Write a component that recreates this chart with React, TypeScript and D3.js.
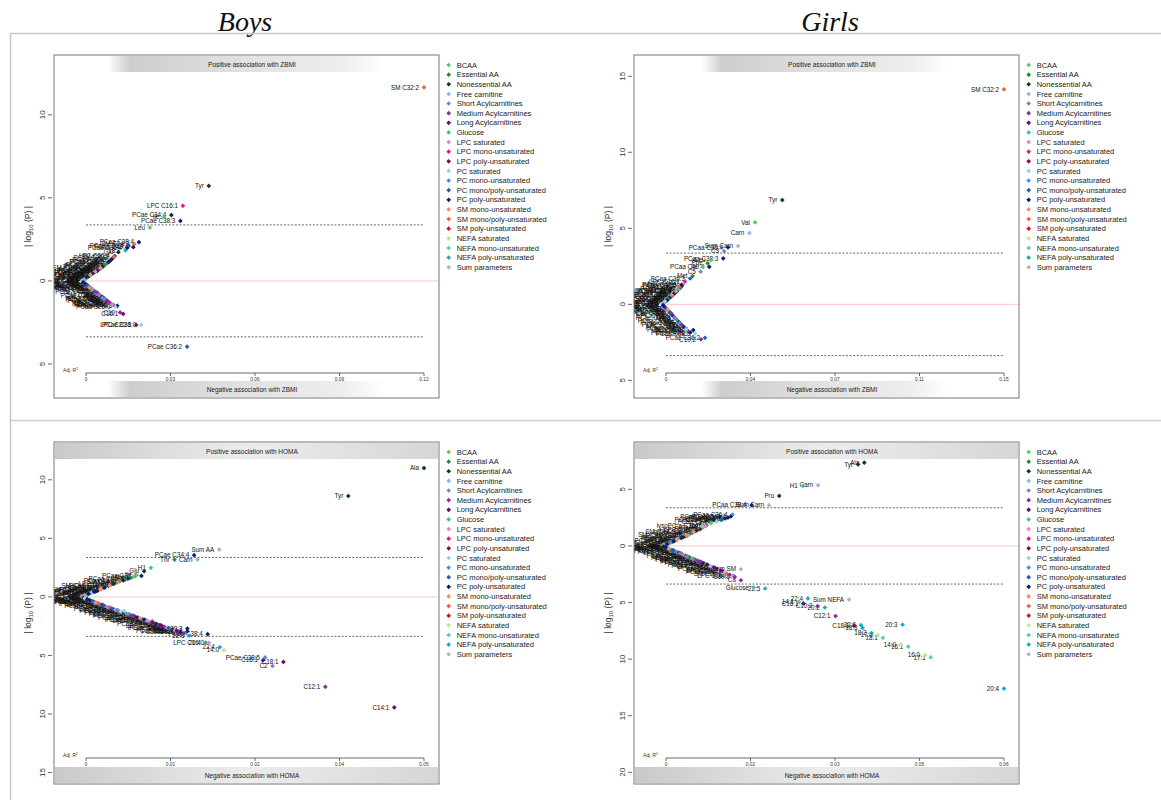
import React from 'react';
import * as d3 from 'd3';

// metabolite classes (legend order) and their colours
const groupNames = [
  'BCAA', 'Essential AA', 'Nonessential AA', 'Free carnitine', 'Short Acylcarnitines',
  'Medium Acylcarnitines', 'Long Acylcarnitines', 'Glucose', 'LPC saturated',
  'LPC mono-unsaturated', 'LPC poly-unsaturated', 'PC saturated', 'PC mono-unsaturated',
  'PC mono/poly-unsaturated', 'PC poly-unsaturated', 'SM mono-unsaturated',
  'SM mono/poly-unsaturated', 'SM poly-unsaturated', 'NEFA saturated',
  'NEFA mono-unsaturated', 'NEFA poly-unsaturated', 'Sum parameters',
];
const groupColors = [
  '#5cc85c', '#1e8c3c', '#0c3a1c', '#8fb6e6', '#7c82c8', '#8c2a9e', '#6a0a70', '#3ec49a',
  '#d88ad2', '#e41a7c', '#8a0c3c', '#9ccde9', '#4a92dc', '#1e5eb8', '#0e1e68', '#f58c6c',
  '#f2643c', '#d6151c', '#bce890', '#5ccea2', '#1aaac2', '#b4b4b4',
];

// [label, class, adj. R², signed |log10 P| (negative = negative association)]
type Pt = [string, number, number, number];

const boysZbmi: Pt[] = [
  ['SM C32:2', 16, 0.12, 11.65], ['Tyr', 2, 0.0436, 5.72], ['LPC C16:1', 9, 0.0344, 4.52],
  ['PCae C34:4', 14, 0.0303, 3.96], ['Ile', 0, 0.0278, 3.84], ['PCae C38:3', 14, 0.0335, 3.61],
  ['Leu', 0, 0.0227, 3.21], ['PCaa C38:4', 14, 0.0188, 2.33], ['SM C24:2', 16, 0.0171, 2.22],
  ['PCaa C40:4', 14, 0.0168, 2.03], ['PCae C36:4', 13, 0.0152, 2.12], ['PCaa C36:4', 14, 0.0146, 1.98],
  ['18:2', 20, 0.014, 1.83], ['Glu', 2, 0.0115, 1.73], ['LPC C20:4', 10, 0.0102, 1.5],
  ['PCaa C36:3', 13, 0.0095, 1.38], ['20:2', 20, 0.0088, 1.26], ['PCaa C38:5', 14, 0.0083, 1.18],
  ['SM C16:1', 15, 0.0078, 1.1], ['Phe', 1, 0.0072, 1.02], ['PCaa C32:0', 11, 0.0068, 0.95],
  ['PCaa C34:1', 12, 0.0062, 0.88], ['SM C18:1', 15, 0.0054, 0.8], ['16:1', 19, 0.0048, 0.72],
  ['PCae C40:6', 14, 0.0042, 0.65], ['PCae C34:1', 12, 0.0035, 0.58], ['LPC C16:0', 8, 0.0028, 0.5],
  ['16:0', 18, 0.0024, 0.45], ['Sum PC', 21, 0.0018, 0.38], ['20:3', 20, 0.0012, 0.32],
  ['PCaa C36:2', 13, 0.0008, 0.26], ['PCaa C30:0', 11, 0.0004, 0.2], ['H1', 7, 0.0, 0.15],
  ['22:6', 20, -0.0005, 0.1], ['PCae C30:0', 11, -0.0009, 0.06], ['PCaa C42:2', 13, -0.0012, 0.03],
  ['Gly', 2, 0.0002, 0.22], ['Ser', 2, -0.0006, 0.12], ['Asn', 2, 0.001, 0.3], ['Thr', 1, 0.003, 0.52],
  ['Met', 1, 0.005, 0.75], ['Orn', 2, 0.006, 0.9], ['His', 1, 0.0066, 0.97], ['Cit', 2, 0.004, 0.62],
  ['Arg', 1, 0.002, 0.4], ['Gln', 2, -0.001, 0.04], ['PCaa C40:6', 14, 0.0058, 0.84],
  ['PCaa C38:6', 14, 0.008, 1.14], ['PCaa C42:6', 14, 0.0091, 1.3], ['SM C20:2', 16, 0.01, 1.44],
  ['PCae C42:3', 13, 0.0013, 0.34], ['C10:1', 5, 0.0035, 0.6], ['C6', 5, 0.0045, 0.68],
  ['PCaa C36:5', 14, 0.001, 0.28], ['PCaa C38:3', 14, 0.0026, 0.48], ['PCae C38:4', 14, 0.0039, 0.6],
  ['SM (OH) C14:1', 15, 0.0015, 0.36], ['SM (OH) C16:1', 15, 0.0033, 0.56], ['SM (OH) C22:1', 15, 0.0052, 0.78],
  ['lysoPC a C26:0', 8, -0.0007, 0.09], ['PCaa C24:0', 11, -0.0013, 0.01],
  ['C4', 4, -0.0011, -0.05], ['20:4', 20, -0.0008, -0.1], ['PCae C36:1', 12, -0.0003, -0.18],
  ['PCaa C28:1', 11, 0.0002, -0.25], ['SM C16:0', 15, 0.0008, -0.33], ['PCae C38:2', 13, 0.0015, -0.42],
  ['PCae C34:2', 12, 0.0022, -0.5], ['18:3', 20, 0.0027, -0.58], ['C3', 4, 0.0036, -0.68],
  ['Lys', 1, 0.0044, -0.78], ['PCae C36:3', 13, 0.005, -0.88], ['C16', 6, 0.0056, -0.95],
  ['LPC C18:2', 10, 0.0064, -1.05], ['PCae C40:1', 12, 0.0069, -1.12], ['PCae C42:5', 14, 0.0075, -1.2],
  ['18:1', 19, 0.0081, -1.28], ['LPC C18:0', 8, 0.0086, -1.35], ['PCae C40:2', 13, 0.009, -1.4],
  ['PCae C38:6', 14, 0.0097, -1.45], ['PCae C40:5', 14, 0.0111, -1.5], ['PCaa C26:0', 11, 0.0104, -1.55],
  ['Trp', 1, 0.0003, -0.22], ['Pro', 2, 0.0012, -0.38], ['C2', 4, 0.0019, -0.46], ['C5', 4, 0.0031, -0.62],
  ['C8', 5, 0.004, -0.72], ['C14', 6, 0.0061, -1.0], ['C18', 6, 0.0072, -1.16], ['SM C18:0', 15, 0.0047, -0.82],
  ['SM C24:0', 15, 0.0026, -0.55], ['LPC C18:1', 9, 0.0084, -1.32], ['LPC C17:0', 8, 0.0093, -1.42],
  ['PCaa C34:3', 13, 0.0005, -0.28], ['C12', 5, 0.0068, -1.1],
  ['PCae C44:5', 14, -0.001, -0.08], ['PCae C44:6', 14, -0.0004, -0.16], ['PCaa C40:3', 13, 0.0006, -0.3],
  ['SM (OH) C24:1', 15, 0.0012, -0.4], ['PCae C42:2', 13, 0.003, -0.64], ['C4:1', 4, 0.0046, -0.84],
  ['C5:1', 4, 0.0058, -1.02], ['PCae C38:1', 12, 0.0066, -1.08], ['C9', 5, 0.0078, -1.25],
  ['C10', 5, 0.0121, -1.9], ['C16:1', 6, 0.0132, -1.99], ['LPC C20:3', 10, 0.0178, -2.65],
  ['PCae C36:0', 11, 0.0196, -2.65], ['PCae C36:2', 13, 0.0359, -3.96],
];

const girlsZbmi: Pt[] = [
  ['SM C32:2', 16, 0.15, 14.14], ['Tyr', 2, 0.0516, 6.86], ['Val', 0, 0.0395, 5.39],
  ['Carn', 3, 0.037, 4.69], ['Sum Carn', 21, 0.032, 3.84], ['PCaa C36:4', 14, 0.0275, 3.75],
  ['C3', 4, 0.0258, 3.5], ['PCaa C38:3', 14, 0.0254, 3.02], ['xLeu', 0, 0.0198, 2.9],
  ['Phe', 1, 0.0185, 2.7], ['PCaa C40:4', 14, 0.0192, 2.47], ['Ile', 0, 0.0163, 2.47],
  ['C5', 4, 0.0154, 2.15], ['Met', 1, 0.0118, 1.86], ['PCaa C36:3', 13, 0.0107, 1.7],
  ['LPC C16:1', 9, 0.0084, 1.49], ['LPC C14:0', 8, 0.0077, 1.35], ['PCaa C38:5', 14, 0.007, 1.2],
  ['PCaa C40:5', 14, 0.006, 1.05], ['Sum AA', 21, 0.0055, 0.98], ['SM C16:1', 15, 0.0048, 0.9],
  ['PCae C38:5', 14, 0.0047, 0.83], ['Ala', 2, 0.004, 0.78], ['Pro', 2, 0.0035, 0.7],
  ['PCaa C34:1', 12, 0.003, 0.62], ['Thr', 1, 0.0024, 0.54], ['16:1', 19, 0.0018, 0.46],
  ['PCaa C32:0', 11, 0.0012, 0.38], ['Glu', 2, 0.0007, 0.31], ['18:1', 19, 0.0002, 0.24],
  ['PCaa C36:2', 13, -0.0003, 0.17], ['H1', 7, -0.0008, 0.11], ['22:6', 20, -0.0012, 0.06],
  ['PCae C30:0', 11, -0.0015, 0.02], ['Lys', 1, 0.0065, 1.12], ['PCaa C34:4', 14, 0.0045, 0.86],
  ['C4', 4, 0.0028, 0.58], ['SM C18:1', 15, 0.001, 0.35], ['20:3', 20, 0.005, 0.94], ['Orn', 2, 0.0021, 0.5],
  ['PCaa C42:6', 14, 0.0068, 1.28], ['SM C24:2', 16, 0.0057, 1.16], ['Arg', 1, 0.0015, 0.42],
  ['PCaa C36:5', 14, 0.0005, 0.28], ['PCaa C38:3', 14, 0.002, 0.5], ['PCae C38:4', 14, 0.0033, 0.66],
  ['SM (OH) C14:1', 15, -0.001, 0.08], ['SM (OH) C16:1', 15, 0.0026, 0.6], ['SM (OH) C22:1', 15, 0.0044, 0.86],
  ['lysoPC a C26:0', 8, -0.0013, 0.04], ['PCaa C24:0', 11, -0.0005, 0.2],
  ['C2', 4, -0.0014, -0.04], ['Gly', 2, -0.0011, -0.1], ['PCae C36:1', 12, -0.0006, -0.18],
  ['PCae C34:2', 12, -0.0001, -0.26], ['Ser', 2, 0.0004, -0.34], ['SM C24:0', 15, 0.0009, -0.42],
  ['20:4', 20, 0.0014, -0.5], ['PCae C38:2', 13, 0.0019, -0.58], ['Asn', 2, 0.0025, -0.66],
  ['LPC C18:2', 10, 0.003, -0.74], ['C16', 6, 0.0035, -0.82], ['PCae C36:3', 13, 0.004, -0.9],
  ['18:2', 20, 0.0044, -0.97], ['PCaa C28:1', 11, 0.0049, -1.05], ['His', 1, 0.0054, -1.12],
  ['Cit', 2, 0.0058, -1.18], ['Gln', 2, 0.0062, -1.25], ['PCae C40:2', 13, 0.0067, -1.32],
  ['LPC C18:0', 8, 0.0072, -1.4], ['C14', 6, 0.0078, -1.48], ['PCae C42:5', 14, 0.0083, -1.55],
  ['18:3', 20, 0.0088, -1.6], ['Trp', 1, 0.002, -0.55], ['C8', 5, 0.0012, -0.46],
  ['PCae C44:5', 14, -0.0013, -0.07], ['PCae C44:6', 14, -0.0009, -0.14], ['PCaa C40:3', 13, 0.0001, -0.3],
  ['SM (OH) C24:1', 15, 0.0007, -0.38], ['PCae C42:2', 13, 0.0022, -0.62], ['C4:1', 4, 0.0037, -0.86],
  ['C5:1', 4, 0.0047, -1.0], ['PCae C38:1', 12, 0.006, -1.22], ['C9', 5, 0.007, -1.36],
  ['SM C24:1', 15, 0.0095, -1.72], ['C10', 5, 0.01, -1.8], ['PCae C40:5', 14, 0.0108, -1.85],
  ['PCae C36:0', 11, 0.009, -1.65], ['PCae C38:6', 14, 0.0121, -1.69], ['PCae C38:0', 11, 0.0129, -1.91],
  ['PCae C36:2', 13, 0.0173, -2.2], ['C10:2', 5, 0.0155, -2.3],
];

const boysHoma: Pt[] = [
  ['Ala', 2, 0.05, 11.0], ['Tyr', 2, 0.0388, 8.62], ['Sum AA', 21, 0.0197, 4.04],
  ['PCae C34:4', 14, 0.016, 3.56], ['Carn', 3, 0.0165, 3.19], ['Thr', 1, 0.0131, 3.19],
  ['H1', 7, 0.0096, 2.48], ['Glu', 2, 0.0086, 2.19], ['PCaa C38:4', 14, 0.0082, 1.79],
  ['Ile', 0, 0.0075, 1.85], ['Leu', 0, 0.007, 1.7], ['Phe', 1, 0.0066, 1.62], ['PCaa C36:4', 14, 0.0062, 1.55],
  ['Lys', 1, 0.0058, 1.48], ['PCaa C40:4', 14, 0.0055, 1.4], ['SM C24:2', 16, 0.005, 1.32],
  ['Val', 0, 0.0046, 1.22], ['LPC C20:4', 10, 0.0042, 1.15], ['Met', 1, 0.0037, 1.05],
  ['PCaa C34:4', 14, 0.0033, 0.95], ['Pro', 2, 0.0028, 0.82], ['SM C16:1', 15, 0.0022, 0.68],
  ['PCaa C38:5', 14, 0.0018, 0.58], ['Orn', 2, 0.0014, 0.48], ['PCaa C36:3', 13, 0.001, 0.4],
  ['C3', 4, 0.0006, 0.3], ['Arg', 1, 0.0002, 0.2], ['PCae C30:0', 11, -0.0002, 0.12],
  ['Gln', 2, -0.0005, 0.05], ['Asn', 2, 0.0017, 0.55], ['Cit', 2, 0.004, 1.1], ['SM C18:1', 15, 0.0025, 0.75],
  ['PCaa C32:0', 11, 0.0008, 0.35], ['PCaa C42:6', 14, 0.0012, 0.44], ['16:1', 19, 0.0004, 0.26],
  ['PCaa C36:5', 14, 0.0004, 0.27], ['PCaa C38:3', 14, 0.0016, 0.52], ['PCae C38:4', 14, 0.0027, 0.79],
  ['SM (OH) C14:1', 15, -0.0003, 0.1], ['SM (OH) C16:1', 15, 0.0021, 0.64], ['SM (OH) C22:1', 15, 0.0035, 0.98],
  ['lysoPC a C26:0', 8, -0.0006, 0.03],
  ['Gly', 2, -0.0004, -0.08], ['Ser', 2, 0.0, -0.16], ['PCae C36:1', 12, 0.0004, -0.25],
  ['SM C16:0', 15, 0.0008, -0.34], ['PCae C38:2', 13, 0.0012, -0.42], ['C4', 4, 0.0016, -0.5],
  ['PCae C34:2', 12, 0.002, -0.6], ['LPC C18:2', 10, 0.0024, -0.68], ['18:2', 20, 0.0028, -0.78],
  ['SM C24:0', 15, 0.0032, -0.86], ['C16', 6, 0.0036, -0.94], ['PCae C36:3', 13, 0.004, -1.02],
  ['LPC C18:0', 8, 0.0044, -1.1], ['PCae C40:1', 12, 0.0048, -1.18], ['16:0', 18, 0.0052, -1.26],
  ['PCae C42:5', 14, 0.0056, -1.35], ['18:1', 19, 0.006, -1.42], ['LPC C18:1', 9, 0.0064, -1.5],
  ['PCae C40:2', 13, 0.0068, -1.58], ['C14', 6, 0.0072, -1.66], ['PCae C38:6', 14, 0.0076, -1.75],
  ['SM C18:0', 15, 0.008, -1.82], ['C5', 4, 0.0084, -1.9], ['PCaa C26:0', 11, 0.0088, -1.98],
  ['LPC C17:0', 8, 0.0092, -2.06], ['18:3', 20, 0.0096, -2.14], ['C10', 5, 0.01, -2.22],
  ['PCae C40:5', 14, 0.0104, -2.3], ['C8', 5, 0.0108, -2.38], ['LPC C20:3', 10, 0.0112, -2.46],
  ['C12', 5, 0.0116, -2.55], ['PCae C36:0', 11, 0.012, -2.63], ['20:3', 20, 0.0124, -2.7],
  ['C18', 6, 0.0128, -2.78], ['PCae C38:0', 11, 0.0132, -2.86], ['C10:1', 5, 0.0136, -2.95],
  ['PCae C42:4', 14, 0.014, -3.02], ['C6', 5, 0.0145, -3.1], ['PCae C38:3', 14, 0.015, -2.7],
  ['PCae C40:6', 14, 0.015, -2.93], ['22:6', 20, 0.0153, -3.3], ['PCae C38:4', 14, 0.018, -3.18],
  ['SM C20:2', 16, 0.0018, -0.55], ['PCaa C28:1', 11, 0.0056, -1.2], ['SM C26:0', 15, 0.0098, -2.05],
  ['PCaa C24:0', 11, -0.0002, -0.12], ['PCae C44:5', 14, 0.0002, -0.2], ['PCae C44:6', 14, 0.0006, -0.3],
  ['PCaa C40:3', 13, 0.001, -0.38], ['SM (OH) C24:1', 15, 0.0014, -0.46], ['PCae C42:2', 13, 0.0026, -0.73],
  ['C4:1', 4, 0.0034, -0.9], ['C5:1', 4, 0.0046, -1.14], ['PCae C38:1', 12, 0.0062, -1.46],
  ['C9', 5, 0.007, -1.62], ['PCae C40:4', 14, 0.0086, -1.94], ['C14:2', 6, 0.0098, -2.18],
  ['C16:2', 6, 0.011, -2.42], ['PCae C42:3', 13, 0.0122, -2.66], ['C18:2', 6, 0.0134, -2.9],
  ['20:4', 20, 0.0177, -3.9], ['LPC C16:0', 8, 0.0182, -3.92], ['22:4', 20, 0.0198, -4.29],
  ['14:0', 18, 0.0204, -4.55], ['PCae C38:5', 12, 0.0265, -5.17], ['C16:1', 6, 0.0262, -5.4],
  ['C2', 4, 0.0276, -5.9], ['C18:1', 6, 0.0292, -5.55], ['C12:1', 5, 0.0354, -7.68],
  ['C14:1', 6, 0.0456, -9.44],
];

const girlsHoma: Pt[] = [
  ['Ala', 2, 0.0352, 7.35], ['Tyr', 2, 0.0341, 7.2], ['Carn', 3, 0.027, 5.37], ['H1', 7, 0.0243, 5.3],
  ['Pro', 2, 0.0201, 4.42], ['Sum Carn', 21, 0.0183, 3.6], ['PCaa C38:4', 14, 0.0152, 3.6],
  ['PCaa C36:4', 12, 0.0118, 2.77], ['PCaa C40:4', 14, 0.0115, 2.6], ['PCaa C38:5', 14, 0.011, 2.5],
  ['Phe', 1, 0.01, 2.35], ['Ile', 0, 0.0088, 2.2], ['Leu', 0, 0.008, 2.0], ['Lys', 1, 0.0072, 1.82],
  ['Val', 0, 0.0066, 1.65], ['LPC C16:1', 9, 0.006, 1.45], ['LPC C20:4', 10, 0.0052, 1.3],
  ['PCaa C36:3', 13, 0.0047, 1.18], ['Met', 1, 0.0043, 1.1], ['SM C24:2', 16, 0.0038, 0.9],
  ['PCaa C34:4', 14, 0.0034, 0.86], ['Glu', 2, 0.003, 0.76], ['PCaa C32:0', 11, 0.0025, 0.66],
  ['SM C16:1', 15, 0.002, 0.56], ['Thr', 1, 0.0016, 0.47], ['Orn', 2, 0.0012, 0.38],
  ['PCaa C34:1', 12, 0.0008, 0.29], ['C3', 4, 0.0004, 0.21], ['Arg', 1, 0.0, 0.13],
  ['PCae C30:0', 11, -0.0004, 0.06], ['Gln', 2, -0.0007, 0.02], ['Asn', 2, 0.0062, 1.55],
  ['Cit', 2, 0.0055, 1.38], ['PCaa C42:6', 14, 0.0105, 2.42], ['PCaa C40:6', 14, 0.0095, 2.55],
  ['SM C18:1', 15, 0.0018, 0.52], ['PCaa C42:5', 14, 0.0085, 2.28], ['Sum AA', 21, 0.0064, 1.7],
  ['PCaa C36:5', 14, 0.0002, 0.17], ['PCaa C38:3', 14, 0.0014, 0.42], ['PCae C38:4', 14, 0.0027, 0.71],
  ['SM (OH) C14:1', 15, -0.0006, 0.04], ['SM (OH) C16:1', 15, 0.0036, 0.95], ['SM (OH) C22:1', 15, 0.0049, 1.24],
  ['lysoPC a C26:0', 8, 0.007, 1.75], ['PCaa C24:0', 11, 0.009, 2.15], ['PCaa C40:3', 13, 0.0098, 2.3],
  ['Gly', 2, -0.0005, -0.05], ['Ser', 2, -0.0001, -0.12], ['PCae C36:1', 12, 0.0003, -0.2],
  ['SM C16:0', 15, 0.0007, -0.28], ['PCae C38:2', 13, 0.0011, -0.36], ['C2', 4, 0.0015, -0.44],
  ['PCae C34:2', 12, 0.0019, -0.52], ['LPC C18:2', 10, 0.0023, -0.6], ['C16', 6, 0.0027, -0.68],
  ['SM C24:0', 15, 0.0031, -0.78], ['PCae C36:3', 13, 0.0035, -0.86], ['LPC C18:0', 8, 0.0039, -0.95],
  ['PCae C40:1', 12, 0.0043, -1.03], ['SM C18:0', 15, 0.0047, -1.12], ['PCae C42:5', 14, 0.0051, -1.2],
  ['LPC C18:1', 9, 0.0055, -1.28], ['PCae C40:2', 13, 0.0059, -1.36], ['C14', 6, 0.0063, -1.45],
  ['PCae C38:6', 14, 0.0067, -1.53], ['SM C20:2', 16, 0.0071, -1.62], ['C5', 4, 0.0075, -1.7],
  ['PCaa C26:0', 11, 0.0079, -1.78], ['LPC C17:0', 8, 0.0083, -1.86], ['C10', 5, 0.0087, -1.95],
  ['PCae C40:5', 14, 0.0091, -2.03], ['SM C26:0', 15, 0.0095, -2.12], ['LPC C20:3', 10, 0.01, -2.2],
  ['PCae C36:0', 11, 0.0105, -2.3], ['SM C26:1', 16, 0.0108, -2.45], ['C12', 5, 0.0113, -2.55],
  ['LPC C16:0', 8, 0.0119, -2.6], ['C10:1', 5, 0.0122, -2.74], ['Sum SM', 21, 0.0133, -2.06],
  ['C8', 5, 0.0133, -3.03], ['Trp', 1, 0.0009, -0.4], ['His', 1, 0.0041, -1.0],
  ['PCae C44:5', 14, -0.0003, -0.08], ['PCae C44:6', 14, 0.0001, -0.16], ['SM (OH) C24:1', 15, 0.0005, -0.24],
  ['PCae C42:2', 13, 0.0013, -0.4], ['C4:1', 4, 0.0025, -0.64], ['C5:1', 4, 0.0037, -0.9],
  ['PCae C38:1', 12, 0.0049, -1.16], ['C9', 5, 0.0061, -1.4], ['PCae C40:4', 14, 0.0073, -1.66],
  ['C14:2', 6, 0.0085, -1.9], ['C16:2', 6, 0.0097, -2.16],
  ['Glucose', 7, 0.0156, -3.67], ['22:5', 20, 0.0176, -3.76], ['22:4', 20, 0.0252, -4.64],
  ['14:1', 19, 0.0236, -4.95], ['C16:1', 6, 0.0244, -5.08], ['C10:2', 5, 0.0269, -5.32],
  ['20:2', 20, 0.0282, -5.44], ['Sum NEFA', 21, 0.0325, -4.74], ['C12:1', 5, 0.0301, -6.2],
  ['C18:1', 6, 0.0334, -7.06], ['22:6', 20, 0.0346, -7.0], ['18:3', 20, 0.0349, -7.24],
  ['18:2', 20, 0.0365, -7.7], ['17:0', 18, 0.0376, -7.88], ['18:1', 19, 0.0385, -8.12],
  ['14:0', 18, 0.0417, -8.7], ['16:1', 19, 0.043, -8.9], ['16:0', 18, 0.046, -9.65],
  ['17:1', 19, 0.047, -9.85], ['20:3', 20, 0.042, -6.96], ['20:4', 20, 0.06, -12.6],
];

const boysZbmiXTicks = [0, 0.03, 0.06, 0.09, 0.12];
const boysZbmiXLabels = ['0', '0.03', '0.06', '0.09', '0.12'];
const girlsZbmiXTicks = [0, 0.0375, 0.075, 0.1125, 0.15];
const girlsZbmiXLabels = ['0', '0.04', '0.07', '0.11', '0.15'];
const boysHomaXTicks = [0, 0.0125, 0.025, 0.0375, 0.05];
const boysHomaXLabels = ['0', '0.01', '0.02', '0.04', '0.05'];
const girlsHomaXTicks = [0, 0.015, 0.03, 0.045, 0.06];
const girlsHomaXLabels = ['0', '0.02', '0.03', '0.05', '0.06'];

const boysZbmiYTicks = [10, 5, 0, -5];
const girlsZbmiYTicks = [15, 10, 5, 0, -5];
const boysHomaYTicks = [10, 5, 0, -5, -10, -15];
const girlsHomaYTicks = [5, 0, -5, -10, -15, -20];

// significance line, |log10 P|
const threshold = 3.37;

const panels = [
  { id: 'bz', data: boysZbmi, xMax: 0.12, xTicks: boysZbmiXTicks, xLabels: boysZbmiXLabels, yTicks: boysZbmiYTicks,
    yDomain: [-7.05, 13.6], left: 54, top: 55, bottom: 398, axisY: 373, trait: 'ZBMI', band: [108, 385] },
  { id: 'gz', data: girlsZbmi, xMax: 0.15, xTicks: girlsZbmiXTicks, xLabels: girlsZbmiXLabels, yTicks: girlsZbmiYTicks,
    yDomain: [-6.16, 16.4], left: 634, top: 55, bottom: 398, axisY: 373, trait: 'ZBMI', band: [702, 948] },
  { id: 'bh', data: boysHoma, xMax: 0.05, xTicks: boysHomaXTicks, xLabels: boysHomaXLabels, yTicks: boysHomaYTicks,
    yDomain: [-15.98, 13.23], left: 54, top: 442, bottom: 784, axisY: 758, trait: 'HOMA', band: null },
  { id: 'gh', data: girlsHoma, xMax: 0.06, xTicks: girlsHomaXTicks, xLabels: girlsHomaXLabels, yTicks: girlsHomaYTicks,
    yDomain: [-21.03, 9.18], left: 634, top: 442, bottom: 784, axisY: 758, trait: 'HOMA', band: null },
];

const diamond = d3.symbol().type(d3.symbolSquare).size(11)() as string;

function Band({ p, x0, x1, y, text, cx }: any) {
  return (
    <g>
      <rect x={x0} y={y} width={x1 - x0} height={16} fill={`url(#grad-${p.id})`} />
      <text x={cx} y={y + 10.5} fontSize={6.5} textAnchor="middle" fill="#222">{text}</text>
    </g>
  );
}

function Panel({ p }: any) {
  const right = p.left + 385;
  const x0 = p.left + 32;
  const x1 = p.left + 370;
  const x = d3.scaleLinear().domain([0, p.xMax]).range([x0, x1]);
  const y = d3.scaleLinear().domain(p.yDomain).range([p.bottom, p.top]);
  const cx = p.left + 198;
  const bx0 = p.band ? p.band[0] : p.left + 1;
  const bx1 = p.band ? p.band[1] : right - 1;
  const midY = (p.top + p.bottom) / 2;
  const legendX = right + 9.7;
  const legendY = p.top + 10;
  return (
    <g>
      <defs>
        <clipPath id={`clip-${p.id}`}>
          <rect x={p.left} y={p.top} width={385} height={p.bottom - p.top} />
        </clipPath>
        {p.band ? (
          <linearGradient id={`grad-${p.id}`} x1="0" x2="1" y1="0" y2="0">
            <stop offset="0" stopColor="#ffffff" />
            <stop offset="0.08" stopColor="#cdcdcd" />
            <stop offset="0.5" stopColor="#e2e2e2" />
            <stop offset="0.85" stopColor="#eeeeee" />
            <stop offset="1" stopColor="#ffffff" />
          </linearGradient>
        ) : (
          <linearGradient id={`grad-${p.id}`} x1="0" x2="1" y1="0" y2="0">
            <stop offset="0" stopColor="#c9c9c9" />
            <stop offset="0.5" stopColor="#ececec" />
            <stop offset="1" stopColor="#d6d6d6" />
          </linearGradient>
        )}
      </defs>
      <Band p={p} x0={bx0} x1={bx1} y={p.top + 1} text={`Positive association with ${p.trait}`} cx={cx} />
      <Band p={p} x0={bx0} x1={bx1} y={p.bottom - 17} text={`Negative association with ${p.trait}`} cx={cx} />

      {/* reference lines */}
      <line x1={x0} x2={right} y1={y(0)} y2={y(0)} stroke="#ffc4cf" strokeWidth={1} />
      {[threshold, -threshold].map((t) => (
        <line key={t} x1={x0} x2={x1} y1={y(t)} y2={y(t)} stroke="#555" strokeWidth={0.9} strokeDasharray="2,1.6" />
      ))}

      {/* x axis drawn inside the plot */}
      <line x1={x0} x2={x1} y1={p.axisY} y2={p.axisY} stroke="#444" strokeWidth={0.8} />
      {p.xTicks.map((t: number, i: number) => (
        <g key={t}>
          <line x1={x(t)} x2={x(t)} y1={p.axisY} y2={p.axisY + 3} stroke="#444" strokeWidth={0.8} />
          <text x={x(t)} y={p.axisY + 8} fontSize={4.8} textAnchor="middle" fill="#333">{p.xLabels[i]}</text>
        </g>
      ))}
      <text x={p.left + 9} y={p.axisY - 1} fontSize={4.8} fill="#333">
        Adj. R<tspan dy={-2} fontSize={3.5}>2</tspan>
      </text>

      {/* y axis: absolute values */}
      {p.yTicks.map((t: number) => (
        <g key={t}>
          <line x1={p.left - 6} x2={p.left - 2} y1={y(t)} y2={y(t)} stroke="#444" strokeWidth={0.8} />
          <text transform={`translate(${p.left - 9},${y(t)}) rotate(-90)`} fontSize={8} textAnchor="middle" fill="#333">
            {Math.abs(t)}
          </text>
        </g>
      ))}
      <text transform={`translate(${p.left - 23},${midY}) rotate(-90)`} fontSize={8.5} textAnchor="middle" fill="#333">
        | log<tspan dy={2} fontSize={6}>10</tspan><tspan dy={-2}> (P) |</tspan>
      </text>

      {/* metabolites: labels left of each point, then the points */}
      <g clipPath={`url(#clip-${p.id})`}>
        {p.data.map((d: Pt, i: number) => (
          <text key={'l' + i} x={x(d[2]) - 5} y={y(d[3])} dy="0.35em" fontSize={6.3} textAnchor="end" fill="#111">
            {d[0]}
          </text>
        ))}
        {p.data.map((d: Pt, i: number) => (
          <path key={'p' + i} d={diamond} transform={`translate(${x(d[2])},${y(d[3])}) rotate(45)`} fill={groupColors[d[1]]} />
        ))}
      </g>

      <rect x={p.left} y={p.top} width={385} height={p.bottom - p.top} fill="none" stroke="#777" strokeWidth={1} />

      {/* legend */}
      {groupNames.map((g, i) => (
        <g key={g} transform={`translate(${legendX},${legendY + i * 9.63})`}>
          <path d={diamond} transform="rotate(45)" fill={groupColors[i]} />
          <text x={8} dy="0.35em" fontSize={7.5} fill="#222">{g}</text>
        </g>
      ))}
    </g>
  );
}

export default function App() {
  return (
    <svg width={1161} height={800} style={{ position: 'absolute', left: 0, top: 0, background: '#fff' }}
      fontFamily="'Liberation Sans', Arial, sans-serif">
      <rect width={1161} height={800} fill="#fff" />
      <text x={245} y={31} fontFamily="'Liberation Serif', 'Times New Roman', serif" fontStyle="italic" fontSize={28}
        textAnchor="middle" fill="#111">Boys</text>
      <text x={830} y={31} fontFamily="'Liberation Serif', 'Times New Roman', serif" fontStyle="italic" fontSize={28}
        textAnchor="middle" fill="#111">Girls</text>
      <line x1={10} x2={1161} y1={33.5} y2={33.5} stroke="#c8c8c8" strokeWidth={1.5} />
      <line x1={10} x2={1161} y1={420.5} y2={420.5} stroke="#d0d0d0" strokeWidth={1.5} />
      <line x1={10.5} x2={10.5} y1={33} y2={800} stroke="#c8c8c8" strokeWidth={1.5} />
      {panels.map((p) => <Panel key={p.id} p={p} />)}
    </svg>
  );
}
